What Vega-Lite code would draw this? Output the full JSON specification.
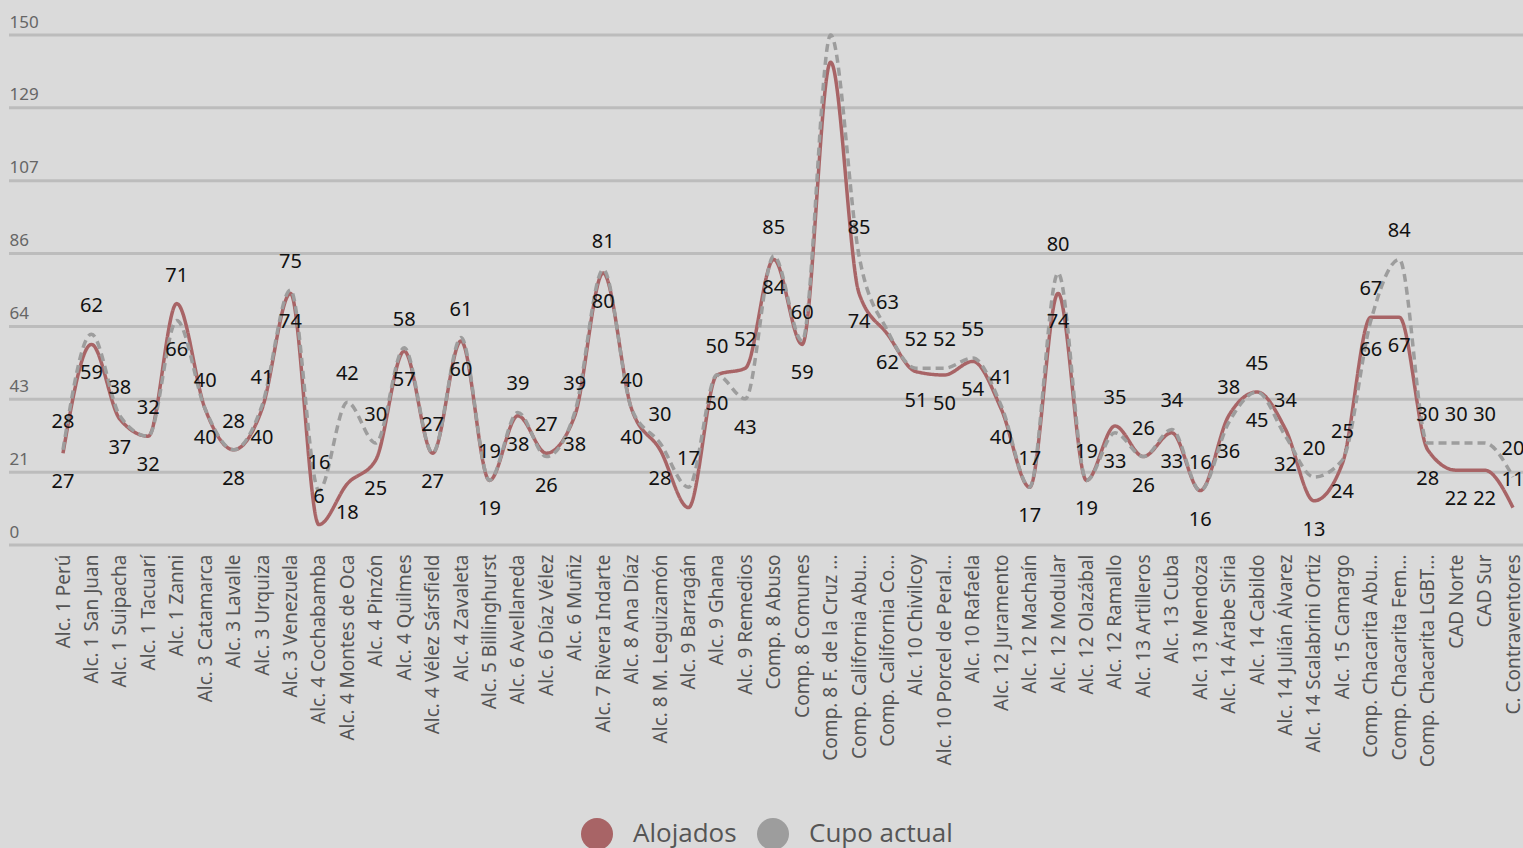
{
  "$schema": "https://vega.github.io/schema/vega-lite/v6.json",
  "autosize": {"type": "none"},
  "padding": {"left": 9, "top": 35, "right": 0, "bottom": 303},
  "width": 1514,
  "height": 510,
  "background": "#dadada",
  "config": {
    "view": {"stroke": null},
    "font": "Noto Sans"
  },
  "datasets": {
    "centros": [
      {"centro": "Alc. 1 Perú", "Alojados": 27, "Cupo actual": 28},
      {"centro": "Alc. 1 San Juan", "Alojados": 59, "Cupo actual": 62},
      {"centro": "Alc. 1 Suipacha", "Alojados": 37, "Cupo actual": 38},
      {"centro": "Alc. 1 Tacuarí", "Alojados": 32, "Cupo actual": 32},
      {"centro": "Alc. 1 Zanni", "Alojados": 71, "Cupo actual": 66},
      {"centro": "Alc. 3 Catamarca", "Alojados": 40, "Cupo actual": 40},
      {"centro": "Alc. 3 Lavalle", "Alojados": 28, "Cupo actual": 28},
      {"centro": "Alc. 3 Urquiza", "Alojados": 40, "Cupo actual": 41},
      {"centro": "Alc. 3 Venezuela", "Alojados": 74, "Cupo actual": 75},
      {"centro": "Alc. 4 Cochabamba", "Alojados": 6, "Cupo actual": 16},
      {"centro": "Alc. 4 Montes de Oca", "Alojados": 18, "Cupo actual": 42},
      {"centro": "Alc. 4 Pinzón", "Alojados": 25, "Cupo actual": 30},
      {"centro": "Alc. 4 Quilmes", "Alojados": 57, "Cupo actual": 58},
      {"centro": "Alc. 4 Vélez Sársfield", "Alojados": 27, "Cupo actual": 27},
      {"centro": "Alc. 4 Zavaleta", "Alojados": 60, "Cupo actual": 61},
      {"centro": "Alc. 5 Billinghurst", "Alojados": 19, "Cupo actual": 19},
      {"centro": "Alc. 6 Avellaneda", "Alojados": 38, "Cupo actual": 39},
      {"centro": "Alc. 6 Díaz Vélez", "Alojados": 27, "Cupo actual": 26},
      {"centro": "Alc. 6 Muñiz", "Alojados": 38, "Cupo actual": 39},
      {"centro": "Alc. 7 Rivera Indarte", "Alojados": 80, "Cupo actual": 81},
      {"centro": "Alc. 8 Ana Díaz", "Alojados": 40, "Cupo actual": 40},
      {"centro": "Alc. 8 M. Leguizamón", "Alojados": 28, "Cupo actual": 30},
      {"centro": "Alc. 9 Barragán", "Alojados": 11, "Cupo actual": 17},
      {"centro": "Alc. 9 Ghana", "Alojados": 50, "Cupo actual": 50},
      {"centro": "Alc. 9 Remedios", "Alojados": 52, "Cupo actual": 43},
      {"centro": "Comp. 8 Abuso", "Alojados": 84, "Cupo actual": 85},
      {"centro": "Comp. 8 Comunes", "Alojados": 59, "Cupo actual": 60},
      {"centro": "Comp. 8 F. de la Cruz ...", "Alojados": 142, "Cupo actual": 150},
      {"centro": "Comp. California Abu...", "Alojados": 74, "Cupo actual": 85},
      {"centro": "Comp. California Co...", "Alojados": 62, "Cupo actual": 63},
      {"centro": "Alc. 10 Chivilcoy", "Alojados": 51, "Cupo actual": 52},
      {"centro": "Alc. 10 Porcel de Peral...", "Alojados": 50, "Cupo actual": 52},
      {"centro": "Alc. 10 Rafaela", "Alojados": 54, "Cupo actual": 55},
      {"centro": "Alc. 12 Juramento", "Alojados": 40, "Cupo actual": 41},
      {"centro": "Alc. 12 Machaín", "Alojados": 17, "Cupo actual": 17},
      {"centro": "Alc. 12 Modular", "Alojados": 74, "Cupo actual": 80},
      {"centro": "Alc. 12 Olazábal", "Alojados": 19, "Cupo actual": 19},
      {"centro": "Alc. 12 Ramallo", "Alojados": 35, "Cupo actual": 33},
      {"centro": "Alc. 13 Artilleros", "Alojados": 26, "Cupo actual": 26},
      {"centro": "Alc. 13 Cuba", "Alojados": 33, "Cupo actual": 34},
      {"centro": "Alc. 13 Mendoza", "Alojados": 16, "Cupo actual": 16},
      {"centro": "Alc. 14 Árabe Siria", "Alojados": 38, "Cupo actual": 36},
      {"centro": "Alc. 14 Cabildo", "Alojados": 45, "Cupo actual": 45},
      {"centro": "Alc. 14 Julián Álvarez", "Alojados": 34, "Cupo actual": 32},
      {"centro": "Alc. 14 Scalabrini Ortiz", "Alojados": 13, "Cupo actual": 20},
      {"centro": "Alc. 15 Camargo", "Alojados": 24, "Cupo actual": 25},
      {"centro": "Comp. Chacarita Abu...", "Alojados": 67, "Cupo actual": 66},
      {"centro": "Comp. Chacarita Fem...", "Alojados": 67, "Cupo actual": 84},
      {"centro": "Comp. Chacarita LGBT...", "Alojados": 28, "Cupo actual": 30},
      {"centro": "CAD Norte", "Alojados": 22, "Cupo actual": 30},
      {"centro": "CAD Sur", "Alojados": 22, "Cupo actual": 30},
      {"centro": "C. Contraventores", "Alojados": 11, "Cupo actual": 20}
    ],
    "grilla": [
      {"t": 0}, {"t": 21.4286}, {"t": 42.8571}, {"t": 64.2857},
      {"t": 85.7143}, {"t": 107.1429}, {"t": 128.5714}, {"t": 150}
    ]
  },
  "layer": [
    {
      "data": {"name": "grilla"},
      "mark": {"type": "rule", "color": "#bcbcbc", "strokeWidth": 3},
      "encoding": {
        "y": {
          "field": "t",
          "type": "quantitative",
          "scale": {"domain": [0, 150], "nice": false, "zero": true},
          "axis": {
            "title": null,
            "values": [0, 21.4286, 42.8571, 64.2857, 85.7143, 107.1429, 128.5714, 150],
            "format": ".0f",
            "labelAlign": "left",
            "labelBaseline": "alphabetic",
            "labelOffset": -8,
            "labelPadding": 0,
            "tickSize": 0,
            "ticks": false,
            "domain": false,
            "labelFontSize": 17,
            "labelColor": "#666666",
            "grid": false
          }
        }
      }
    },
    {
      "data": {"name": "centros"},
      "transform": [
        {"fold": ["Alojados", "Cupo actual"], "as": ["serie", "valor"]}
      ],
      "encoding": {
        "x": {
          "field": "centro",
          "type": "nominal",
          "sort": null,
          "scale": {"range": [54, 1504], "padding": 0},
          "axis": {
            "title": null,
            "labelAngle": -90,
            "labelAlign": "right",
            "labelBaseline": "middle",
            "labelPadding": 9,
            "labelFontSize": 19,
            "labelColor": "#555555",
            "labelLimit": 300,
            "ticks": false,
            "domain": false,
            "grid": false
          }
        },
        "y": {"field": "valor", "type": "quantitative"}
      },
      "layer": [
        {
          "mark": {"type": "line", "interpolate": "monotone", "strokeWidth": 3.5},
          "encoding": {
            "color": {
              "field": "serie",
              "type": "nominal",
              "scale": {"domain": ["Alojados", "Cupo actual"], "range": ["#a86466", "#9d9d9d"]},
              "legend": {
                "title": null,
                "orient": "none",
                "legendX": 572,
                "legendY": 783,
                "direction": "horizontal",
                "padding": 0,
                "symbolType": "circle",
                "symbolSize": 1024,
                "symbolStrokeWidth": 0,
                "labelFontSize": 26,
                "labelFont": "Open Sans",
                "labelColor": "#555555",
                "labelOffset": 20,
                "columnPadding": 20,
                "encode": {
                  "symbols": {"update": {"fill": {"scale": "color", "field": "value"}, "strokeWidth": {"value": 0}, "opacity": {"value": 1}}}
                }
              }
            },
            "strokeDash": {
              "field": "serie",
              "type": "nominal",
              "scale": {"domain": ["Alojados", "Cupo actual"], "range": [[1, 0], [8, 5]]},
              "legend": null
            }
          }
        },
        {
          "transform": [
            {"window": [{"op": "row_number", "as": "rk"}], "groupby": ["centro"], "sort": [{"field": "valor", "order": "descending"}]},
            {"joinaggregate": [{"op": "max", "field": "valor", "as": "mx"}], "groupby": ["centro"]},
            {"filter": "datum.valor < 140 && (datum.rk == 1 || (datum.valor < 12 && datum.mx - datum.valor >= 7))"}
          ],
          "mark": {"type": "text", "dy": -28, "baseline": "middle", "fontSize": 20, "color": "#111111", "clip": true},
          "encoding": {"text": {"field": "valor", "type": "quantitative"}}
        },
        {
          "transform": [
            {"window": [{"op": "row_number", "as": "rk"}], "groupby": ["centro"], "sort": [{"field": "valor", "order": "descending"}]},
            {"filter": "datum.valor < 140 && datum.rk == 2 && datum.valor >= 12"}
          ],
          "mark": {"type": "text", "dy": 29, "baseline": "middle", "fontSize": 20, "color": "#111111", "clip": true},
          "encoding": {"text": {"field": "valor", "type": "quantitative"}}
        }
      ]
    }
  ]
}
